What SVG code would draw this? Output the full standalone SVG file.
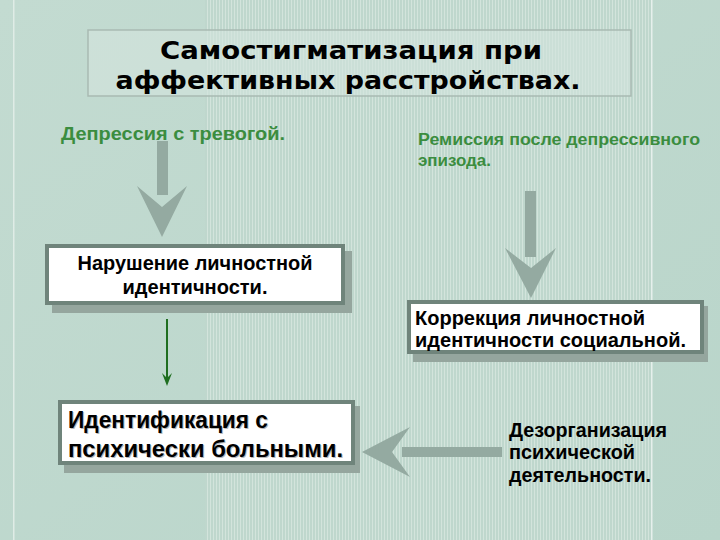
<svg xmlns="http://www.w3.org/2000/svg" width="720" height="540" viewBox="0 0 720 540">
<defs>
<pattern id="stripes" x="0" y="0" width="3" height="10" patternUnits="userSpaceOnUse">
<rect width="3" height="10" fill="#bfd7cd"/>
<rect width="1" height="10" fill="#d3e4dc"/>
</pattern>
<linearGradient id="bgl" x1="0" y1="0" x2="1" y2="1">
<stop offset="0" stop-color="#c3dbd1"/>
<stop offset="1" stop-color="#b9d5ca"/>
</linearGradient>
<style>
.bx{fill:#ffffff;stroke:#6f847b;stroke-width:4}
.sh{fill:#95a69e}
.t{font-family:"Liberation Sans",Arial,sans-serif;font-weight:bold;fill:#000}
.g{font-family:"Liberation Sans",Arial,sans-serif;font-weight:bold;fill:#3b8d3f}
.ga{fill:#94aaa1}
.ts{font-family:"Liberation Sans",Arial,sans-serif;font-weight:bold;fill:#b8b8b8}
</style>
</defs>
<rect width="720" height="540" fill="url(#bgl)"/>
<rect x="205" y="0" width="446" height="540" fill="url(#stripes)"/>
<rect x="13" y="0" width="1.5" height="540" fill="#dfece6"/>
<rect x="651" y="0" width="1.5" height="540" fill="#e6f0ec"/>

<g id="title">
<rect x="88" y="30" width="543" height="66" fill="#d3e4dd" fill-opacity="0.6" stroke="#a9bab2" stroke-width="1.5"/>
<text x="351" y="59" text-anchor="middle" font-family="DejaVu Sans, sans-serif" font-weight="bold" font-size="25" textLength="382" lengthAdjust="spacingAndGlyphs">Самостигматизация при</text>
<text x="348" y="89" text-anchor="middle" font-family="DejaVu Sans, sans-serif" font-weight="bold" font-size="25" textLength="465" lengthAdjust="spacingAndGlyphs">аффективных расстройствах.</text>
</g>

<g id="label-depression">
<text class="g" x="61" y="140" font-size="18" textLength="224" lengthAdjust="spacingAndGlyphs">Депрессия с тревогой.</text>
</g>
<g id="label-remission">
<text class="g" x="418" y="145" font-size="16" textLength="282" lengthAdjust="spacingAndGlyphs">Ремиссия после депрессивного</text>
<text class="g" x="418" y="166" font-size="16" textLength="73" lengthAdjust="spacingAndGlyphs">эпизода.</text>
</g>

<g id="connectors">
<rect class="ga" x="157" y="141" width="11" height="54"/>
<polygon class="ga" points="137,186 162,207 187,186 162,237"/>
<rect class="ga" x="525" y="191" width="11" height="66"/>
<polygon class="ga" points="505,248 531,268 556,248 531,298"/>
<line x1="167" y1="319" x2="167" y2="382" stroke="#1f6e20" stroke-width="2"/>
<polygon points="162,373 167,378 172,373 167,386" fill="#1f6e20"/>
<rect class="ga" x="402" y="447" width="100" height="10"/>
<polygon class="ga" points="362,452 410,427 392,452 410,477"/>
</g>

<g id="box-violation">
<rect class="sh" x="52" y="251" width="300" height="62"/>
<rect class="bx" x="47" y="246" width="296" height="57"/>
<text class="t" x="195" y="270" font-size="20" text-anchor="middle" textLength="235" lengthAdjust="spacingAndGlyphs">Нарушение личностной</text>
<text class="t" x="195" y="294" font-size="20" text-anchor="middle" textLength="145" lengthAdjust="spacingAndGlyphs">идентичности.</text>
</g>

<g id="box-correction">
<rect class="sh" x="413" y="306" width="295" height="56"/>
<rect class="bx" x="409" y="302" width="293" height="50"/>
<text class="t" x="415" y="325" font-size="20" textLength="230" lengthAdjust="spacingAndGlyphs">Коррекция личностной</text>
<text class="t" x="415" y="347" font-size="20" textLength="271" lengthAdjust="spacingAndGlyphs">идентичности социальной.</text>
</g>

<g id="box-identification">
<rect class="sh" x="64" y="406" width="296" height="67"/>
<rect class="bx" x="60" y="402" width="293" height="61"/>
<text class="ts" x="69" y="429" font-size="23" textLength="200" lengthAdjust="spacingAndGlyphs">Идентификация с</text>
<text class="ts" x="69" y="458" font-size="23" textLength="275" lengthAdjust="spacingAndGlyphs">психически больными.</text>
<text class="t" x="68" y="428" font-size="23" textLength="200" lengthAdjust="spacingAndGlyphs">Идентификация с</text>
<text class="t" x="68" y="457" font-size="23" textLength="275" lengthAdjust="spacingAndGlyphs">психически больными.</text>
</g>

<g id="label-disorganization">
<text class="t" x="509" y="437" font-size="20" textLength="158" lengthAdjust="spacingAndGlyphs">Дезорганизация</text>
<text class="t" x="509" y="459" font-size="20" textLength="126" lengthAdjust="spacingAndGlyphs">психической</text>
<text class="t" x="509" y="482" font-size="20" textLength="142" lengthAdjust="spacingAndGlyphs">деятельности.</text>
</g>
</svg>
